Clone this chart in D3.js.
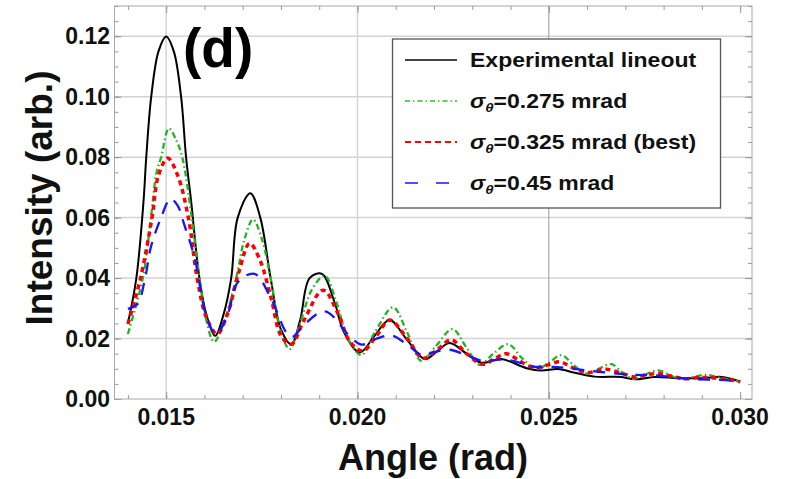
<!DOCTYPE html>
<html><head><meta charset="utf-8">
<script src="https://cdn.jsdelivr.net/npm/d3@7"></script>
<style>body{margin:0;background:#fff}svg{display:block}text{font-family:"Liberation Sans",Arial,sans-serif;font-weight:bold}</style>
</head><body><svg id="c" width="787" height="479"></svg>
<script>
// ---- data ----
const xTicks = [0.015, 0.020, 0.025, 0.030];
const xTickLabels = ["0.015", "0.020", "0.025", "0.030"];
const yTicks = [0, 0.02, 0.04, 0.06, 0.08, 0.10, 0.12];
const yTickLabels = ["0.00", "0.02", "0.04", "0.06", "0.08", "0.10", "0.12"];

const expAngle = [0.01400,0.01422,0.01441,0.01448,0.01461,0.01480,0.01500,0.01520,0.01539,0.01552,0.01565,0.01587,0.01605,0.01628,0.01650,0.01670,0.01687,0.01720,0.01746,0.01773,0.01800,0.01827,0.01850,0.01875,0.01907,0.01940,0.01965,0.02006,0.02045,0.02084,0.02130,0.02176,0.02210,0.02241,0.02285,0.02324,0.02376,0.02442,0.02480,0.02524,0.02568,0.02620,0.02690,0.02725,0.02777,0.02837,0.02900,0.02952,0.03000];
const expIntensity = [0.0250,0.0399,0.0657,0.0800,0.1000,0.1150,0.1199,0.1150,0.1000,0.0800,0.0657,0.0399,0.0280,0.0209,0.0280,0.0400,0.0600,0.0681,0.0600,0.0400,0.0230,0.0181,0.0260,0.0400,0.0414,0.0320,0.0220,0.0154,0.0210,0.0261,0.0195,0.0132,0.0160,0.0185,0.0150,0.0120,0.0132,0.0102,0.0094,0.0099,0.0087,0.0074,0.0073,0.0065,0.0073,0.0069,0.0069,0.0073,0.0058];

const s275Angle = [0.01400,0.01439,0.01460,0.01475,0.01487,0.01507,0.01525,0.01542,0.01567,0.01587,0.01605,0.01625,0.01650,0.01683,0.01705,0.01727,0.01750,0.01773,0.01800,0.01823,0.01850,0.01880,0.01914,0.01945,0.01975,0.02010,0.02045,0.02093,0.02130,0.02167,0.02205,0.02248,0.02285,0.02320,0.02355,0.02394,0.02430,0.02468,0.02500,0.02533,0.02565,0.02599,0.02630,0.02664,0.02690,0.02720,0.02750,0.02786,0.02815,0.02847,0.02875,0.02908,0.02950,0.03000];
const s275Intensity = [0.0215,0.0400,0.0598,0.0750,0.0800,0.0895,0.0860,0.0800,0.0598,0.0400,0.0260,0.0189,0.0250,0.0400,0.0530,0.0594,0.0530,0.0400,0.0220,0.0165,0.0250,0.0360,0.0408,0.0320,0.0200,0.0145,0.0220,0.0303,0.0220,0.0126,0.0175,0.0231,0.0170,0.0113,0.0150,0.0181,0.0135,0.0099,0.0120,0.0145,0.0112,0.0084,0.0100,0.0115,0.0090,0.0067,0.0080,0.0095,0.0080,0.0065,0.0072,0.0080,0.0070,0.0057];

const s325Angle = [0.01400,0.01433,0.01463,0.01480,0.01504,0.01530,0.01558,0.01581,0.01605,0.01633,0.01660,0.01690,0.01718,0.01745,0.01775,0.01800,0.01827,0.01860,0.01910,0.01950,0.01980,0.02014,0.02050,0.02084,0.02130,0.02171,0.02210,0.02245,0.02285,0.02328,0.02360,0.02389,0.02425,0.02460,0.02495,0.02529,0.02560,0.02600,0.02630,0.02655,0.02690,0.02725,0.02755,0.02786,0.02820,0.02856,0.02885,0.02917,0.02960,0.03000];
const s325Intensity = [0.0248,0.0400,0.0600,0.0740,0.0797,0.0740,0.0600,0.0400,0.0270,0.0215,0.0280,0.0420,0.0515,0.0460,0.0330,0.0210,0.0181,0.0260,0.0360,0.0280,0.0190,0.0159,0.0210,0.0261,0.0200,0.0135,0.0165,0.0196,0.0150,0.0115,0.0135,0.0150,0.0125,0.0104,0.0112,0.0123,0.0105,0.0087,0.0095,0.0098,0.0085,0.0073,0.0080,0.0084,0.0075,0.0067,0.0070,0.0071,0.0066,0.0057];

const s45Angle = [0.01400,0.01425,0.01445,0.01460,0.01487,0.01511,0.01530,0.01548,0.01574,0.01605,0.01630,0.01661,0.01687,0.01731,0.01775,0.01814,0.01830,0.01860,0.01915,0.01979,0.02010,0.02050,0.02090,0.02130,0.02170,0.02200,0.02240,0.02285,0.02330,0.02370,0.02400,0.02470,0.02510,0.02550,0.02630,0.02720,0.02780,0.02870,0.02950,0.03000];
const s45Intensity = [0.0298,0.0314,0.0400,0.0502,0.0601,0.0662,0.0640,0.0574,0.0469,0.0275,0.0215,0.0281,0.0386,0.0414,0.0330,0.0220,0.0205,0.0245,0.0290,0.0209,0.0180,0.0200,0.0210,0.0180,0.0145,0.0155,0.0163,0.0145,0.0125,0.0130,0.0128,0.0105,0.0106,0.0102,0.0090,0.0080,0.0078,0.0066,0.0063,0.0058];

const seriesNames = ["Experimental lineout", "0.275 mrad", "0.325 mrad (best)", "0.45 mrad"];

// ---- layout ----
const L = 114.5, R = 752, T = 6, B = 399;
const svg = d3.select("#c");
const x = d3.scaleLinear().domain([0.01365, 0.03031]).range([L, R]);
const y = d3.scaleLinear().domain([0, 0.13]).range([B, T]);

// gridlines
const g = svg.append("g");
g.selectAll(".gy").data(yTicks.filter(v => v > 0)).join("line")
  .attr("x1", L).attr("x2", R).attr("y1", d => y(d)).attr("y2", d => y(d))
  .attr("stroke", "#d4d4d4").attr("stroke-width", 1.5);
g.selectAll(".gx").data(xTicks.slice(0, 3)).join("line")
  .attr("x1", d => x(d)).attr("x2", d => x(d)).attr("y1", T).attr("y2", B)
  .attr("stroke", d => d === 0.025 ? "#9a9a9a" : "#d4d4d4")
  .attr("stroke-width", d => d === 0.025 ? 1 : 1.5);

// axes with inward ticks on all sides
const tickCol = "#999";
const minorX = d3.range(14, 31).map(v => v / 1000);
const minorY = d3.range(0, 27).map(v => v * 0.005);
function ax(gen, tr) {
  const a = svg.append("g").attr("transform", tr).call(gen);
  a.selectAll("path").remove();
  a.selectAll("line").attr("stroke", tickCol);
  a.selectAll("text").remove();
  return a;
}
ax(d3.axisBottom(x).tickValues(minorX).tickSize(-4), `translate(0,${B})`);
ax(d3.axisBottom(x).tickValues(xTicks).tickSize(-7), `translate(0,${B})`);
ax(d3.axisTop(x).tickValues(minorX).tickSize(-4), `translate(0,${T})`);
ax(d3.axisTop(x).tickValues(xTicks).tickSize(-7), `translate(0,${T})`);
ax(d3.axisLeft(y).tickValues(minorY).tickSize(-4), `translate(${L},0)`);
ax(d3.axisLeft(y).tickValues(yTicks).tickSize(-7), `translate(${L},0)`);
ax(d3.axisRight(y).tickValues(minorY).tickSize(-4), `translate(${R},0)`);
ax(d3.axisRight(y).tickValues(yTicks).tickSize(-7), `translate(${R},0)`);

svg.append("rect").attr("x", L).attr("y", T).attr("width", R - L).attr("height", B - T)
  .attr("fill", "none").attr("stroke", "#a8a8a8").attr("stroke-width", 1);

// tick labels
svg.append("g").selectAll("text").data(xTicks).join("text")
  .attr("x", d => x(d)).attr("y", 425).attr("text-anchor", "middle")
  .attr("font-size", 23).attr("fill", "#111").text((d, i) => xTickLabels[i]);
svg.append("g").selectAll("text").data(yTicks).join("text")
  .attr("x", 110).attr("y", d => y(d) + 8).attr("text-anchor", "end")
  .attr("font-size", 23).attr("fill", "#111").text((d, i) => yTickLabels[i]);

// axis titles
svg.append("text").attr("x", 433).attr("y", 470).attr("text-anchor", "middle")
  .attr("font-size", 36).attr("fill", "#111").text("Angle (rad)");
svg.append("text").attr("transform", "translate(52,198) rotate(-90)").attr("text-anchor", "middle")
  .attr("font-size", 37).attr("fill", "#111").text("Intensity (arb.)");

// panel label
svg.append("text").attr("x", 183).attr("y", 67).attr("font-size", 55).attr("fill", "#000").text("(d)");

// curves
const line = d3.line().x(d => x(d[0])).y(d => y(d[1])).curve(d3.curveCatmullRom.alpha(0.5));
const styles = [
  {ax: expAngle, ay: expIntensity, color: "#000", w: 2, dash: null},
  {ax: s275Angle, ay: s275Intensity, color: "#22b322", w: 2.3, dash: "6,3,1.5,3"},
  {ax: s325Angle, ay: s325Intensity, color: "#ff0000", w: 3.5, dash: "5,4"},
  {ax: s45Angle, ay: s45Intensity, color: "#1515ff", w: 2.3, dash: "12,9"}
];
styles.forEach(s => {
  const pts = s.ax.map((a, i) => [a, s.ay[i]]);
  svg.append("path").datum(pts).attr("d", line).attr("fill", "none")
    .attr("stroke", s.color).attr("stroke-width", s.w)
    .attr("stroke-dasharray", s.dash).attr("stroke-linejoin", "round");
});

// legend
const lg = svg.append("g");
lg.append("rect").attr("x", 392.5).attr("y", 39).attr("width", 328).attr("height", 169)
  .attr("fill", "#fff").attr("stroke", "#555").attr("stroke-width", 1.3);
const legStyles = [
  {color: "#444", w: 2, dash: null},
  {color: "#22c322", w: 1.5, dash: "5,3,1.5,3"},
  {color: "#ff0000", w: 2, dash: "6,4"},
  {color: "#1515ff", w: 1.5, dash: "13,18"}
];
const rowY = [60, 101, 142, 183];
seriesNames.forEach((name, i) => {
  const st = legStyles[i];
  lg.append("line").attr("x1", 405).attr("x2", 457).attr("y1", rowY[i]).attr("y2", rowY[i])
    .attr("stroke", st.color).attr("stroke-width", st.w).attr("stroke-dasharray", st.dash);
  const t = lg.append("text").attr("transform", `translate(470,${rowY[i] + 7}) scale(1.15,1)`)
    .attr("font-size", 20).attr("fill", "#111");
  if (i === 0) {
    t.text(name);
  } else {
    t.append("tspan").attr("font-style", "italic").text("σ");
    t.append("tspan").attr("font-style", "italic").attr("font-size", 13).attr("dy", 4).text("θ");
    t.append("tspan").attr("dy", -4).text("=" + name);
  }
});
</script></body></html>
